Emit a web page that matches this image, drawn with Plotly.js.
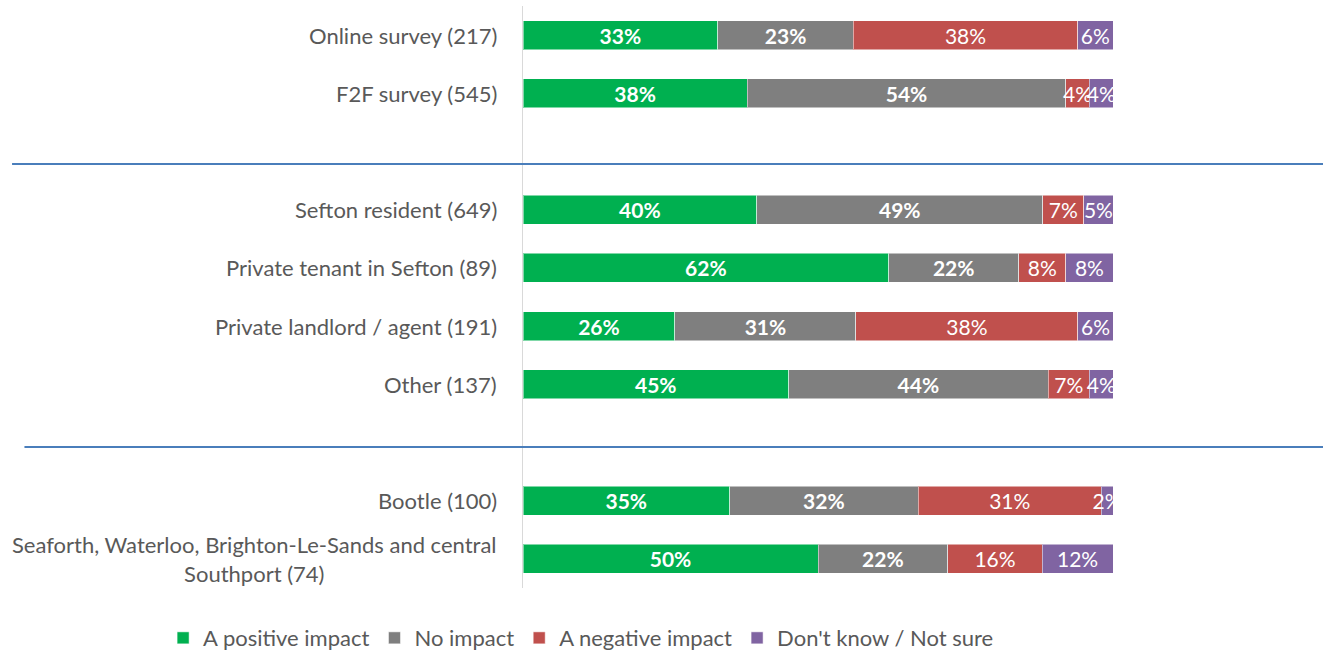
<!DOCTYPE html>
<html>
<head>
<meta charset="utf-8">
<script src="https://cdn.plot.ly/plotly-3.0.1.min.js"></script>
<style>
  html, body { margin: 0; padding: 0; background: #fff; }
  #chart { width: 1323px; height: 657px; }
</style>
</head>
<body>
<div id="chart"></div>
<script>
var categories = [
    'Online survey (217)',
    'F2F survey (545)',
    'Sefton resident (649)',
    'Private tenant in Sefton (89)',
    'Private landlord / agent (191)',
    'Other (137)',
    'Bootle (100)',
    'Seaforth, Waterloo, Brighton-Le-Sands and central<br>Southport (74)'
];
// row slots, blank rows at 2 and 7 separate the groups
var rowPos = [0, 1, 3, 4, 5, 6, 8, 9];

var positive = [33, 38, 40, 62, 26, 45, 35, 50];
var noImpact = [23, 54, 49, 22, 31, 44, 32, 22];
var negative = [38, 4, 7, 8, 38, 7, 31, 16];
var dontKnow = [6, 4, 5, 8, 6, 4, 2, 12];

var seriesNames = ['A positive impact', 'No impact', 'A negative impact', "Don't know / Not sure"];
var seriesColors = ['#00B050', '#7F7F7F', '#C0504D', '#8064A2'];
var seriesBold = [true, true, false, false];
var seriesValues = [positive, noImpact, negative, dontKnow];

var fontFamily = 'Lato, "Open Sans", sans-serif';
var textGrey = '#595959';

var data = seriesValues.map(function (vals, i) {
    return {
        type: 'bar',
        orientation: 'h',
        name: seriesNames[i],
        x: vals,
        y: rowPos,
        text: vals.map(function (v) { return v + '%'; }),
        texttemplate: seriesBold[i] ? '<b>%{text}</b>' : '%{text}',
        textposition: 'inside',
        insidetextanchor: 'middle',
        constraintext: 'none',
        textangle: 0,
        textfont: { family: fontFamily, size: 21, color: '#ffffff' },
        marker: { color: seriesColors[i], line: { color: 'rgba(255,255,255,0.5)', width: 1 } },
        hoverinfo: 'skip'
    };
});

var annotations = categories.map(function (c, i) {
    return {
        xref: 'paper', yref: 'y',
        x: -0.04, y: rowPos[i],
        xanchor: 'right', yanchor: 'middle',
        align: 'center',
        text: c,
        showarrow: false,
        font: { family: fontFamily, size: 22, color: textGrey }
    };
});

var layout = {
    width: 1323,
    height: 657,
    margin: { l: 523, r: 210, t: 6, b: 69, autoexpand: false },
    paper_bgcolor: '#ffffff',
    plot_bgcolor: '#ffffff',
    barmode: 'stack',
    barnorm: 'percent',
    bargap: 0.5,
    xaxis: {
        range: [0, 100],
        visible: false,
        fixedrange: true
    },
    yaxis: {
        range: [9.5, -0.5],
        showgrid: false,
        zeroline: false,
        showline: true,
        linecolor: '#d9d9d9',
        linewidth: 1.5,
        showticklabels: false,
        ticks: '',
        fixedrange: true
    },
    annotations: annotations,
    shapes: [
        { type: 'line', xref: 'paper', yref: 'paper', x0: -0.866, x1: 1.36, y0: 0.7285, y1: 0.7285,
          line: { color: '#4A7EBB', width: 2 } },
        { type: 'line', xref: 'paper', yref: 'paper', x0: -0.845, x1: 1.36, y0: 0.2423, y1: 0.2423,
          line: { color: '#4A7EBB', width: 2 } }
    ],
    showlegend: true,
    legend: {
        orientation: 'h',
        x: -0.61, y: -0.086,
        xanchor: 'left', yanchor: 'middle',
        traceorder: 'normal',
        font: { family: fontFamily, size: 22, color: textGrey },
        itemclick: false,
        itemdoubleclick: false
    }
};

Plotly.newPlot('chart', data, layout, { displayModeBar: false, staticPlot: true });
</script>
</body>
</html>
